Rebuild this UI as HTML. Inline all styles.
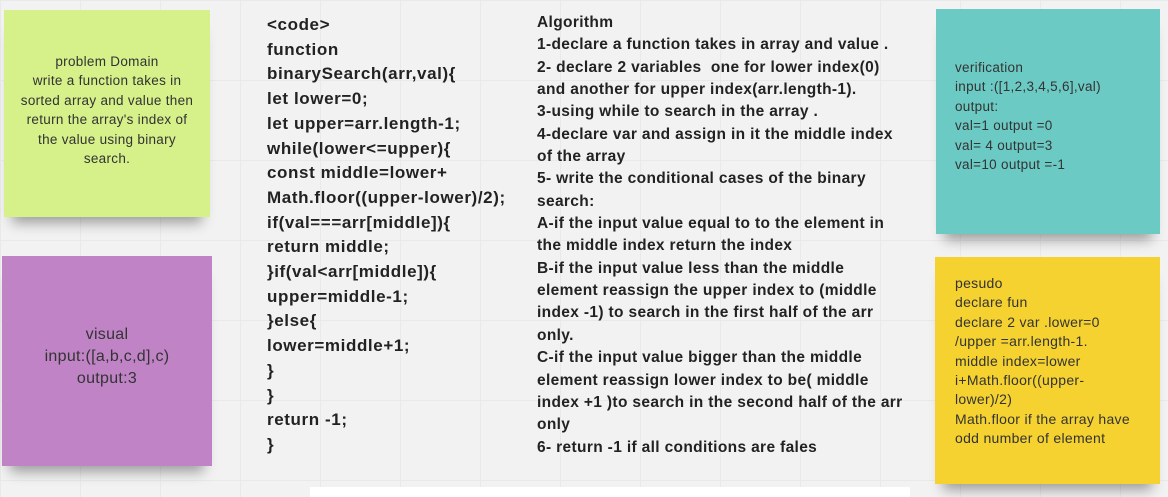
<!DOCTYPE html>
<html><head><meta charset="utf-8"><style>
body{margin:0;width:1168px;height:492px;overflow:hidden;background:#f2f2f2;font-family:"Liberation Sans",sans-serif;position:relative;
background-image:linear-gradient(#e9e9e9 1px,transparent 1px),linear-gradient(90deg,#e9e9e9 1px,transparent 1px);background-size:80px 80px;}
.note{position:absolute;box-shadow:0 14px 12px -8px rgba(0,0,0,0.35);color:#333;}
.t{position:absolute;white-space:pre;line-height:19.4px;font-size:13.5px;letter-spacing:0.3px;}
.code{position:absolute;left:267px;top:13px;font-weight:bold;font-size:17px;letter-spacing:0.6px;line-height:24.7px;color:#222;white-space:pre;}
.algo{position:absolute;left:537px;top:12px;font-weight:bold;font-size:15.5px;letter-spacing:0.35px;line-height:22.35px;color:#222;white-space:pre;}
</style></head><body>
<div class="note" style="left:4px;top:10px;width:206px;height:207px;background:#d6f08a;">
<div class="t" style="left:0;width:206px;top:42px;text-align:center;">problem Domain
write a function takes in
sorted array and value then
return the array's index of
the value using binary
search.</div></div>
<div class="note" style="left:2px;top:256px;width:210px;height:210px;background:#c084c6;">
<div class="t" style="left:0;width:210px;top:68px;text-align:center;font-size:16px;line-height:22px;">visual
input:([a,b,c,d],c)
output:3</div></div>
<div class="code">&lt;code&gt;
function
binarySearch(arr,val){
let lower=0;
let upper=arr.length-1;
while(lower&lt;=upper){
const middle=lower+
Math.floor((upper-lower)/2);
if(val===arr[middle]){
return middle;
}if(val&lt;arr[middle]){
upper=middle-1;
}else{
lower=middle+1;
}
}
return -1;
}</div>
<div class="algo">Algorithm
1-declare a function takes in array and value .
2- declare 2 variables  one for lower index(0)
and another for upper index(arr.length-1).
3-using while to search in the array .
4-declare var and assign in it the middle index
of the array
5- write the conditional cases of the binary
search:
A-if the input value equal to to the element in
the middle index return the index
B-if the input value less than the middle
element reassign the upper index to (middle
index -1) to search in the first half of the arr
only.
C-if the input value bigger than the middle
element reassign lower index to be( middle
index +1 )to search in the second half of the arr
only
6- return -1 if all conditions are fales</div>
<div class="note" style="left:936px;top:9px;width:224px;height:225px;background:#6ccac4;">
<div class="t" style="left:19px;top:49px;">verification
input :([1,2,3,4,5,6],val)
output:
val=1 output =0
val= 4 output=3
val=10 output =-1</div></div>
<div class="note" style="left:935px;top:257px;width:225px;height:227px;background:#f5d230;">
<div class="t" style="left:20px;top:17px;font-size:14px;">pesudo
declare fun
declare 2 var .lower=0
/upper =arr.length-1.
middle index=lower
i+Math.floor((upper-
lower)/2)
Math.floor if the array have
odd number of element</div></div>
<div style="position:absolute;left:310px;top:487px;width:600px;height:10px;background:#fff;"></div>
</body></html>
